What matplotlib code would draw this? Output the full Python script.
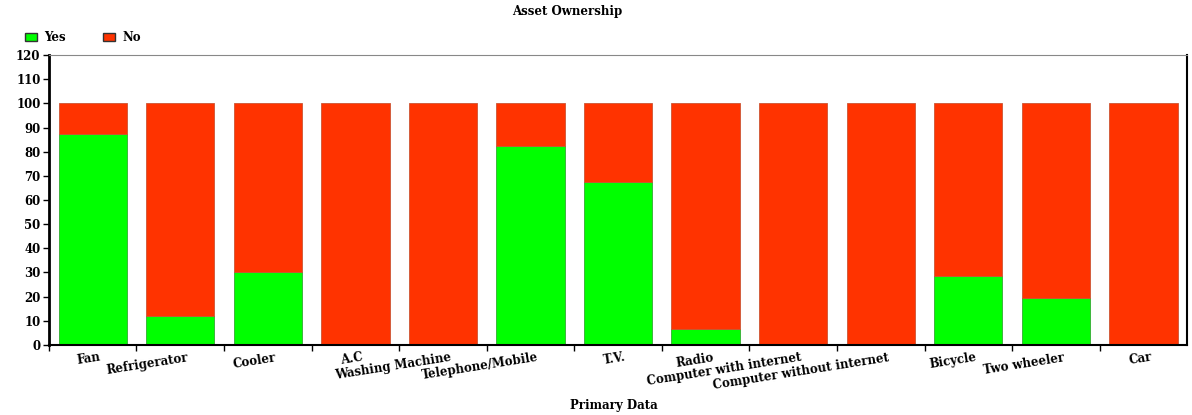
import matplotlib.pyplot as plt
import numpy as np

categories = ["Fan", "Refrigerator", "Cooler", "A.C", "Washing Machine",
              "Telephone/Mobile", "T.V.", "Radio", "Computer with internet",
              "Computer without internet", "Bicycle", "Two wheeler", "Car"]
yes_pct = [87.5, 12, 30.3, 0, 0.5, 82.2, 67.6, 6.6, 0, 0.5, 28.6, 19.5, 0]
no_pct = [100 - v for v in yes_pct]

plt.rcParams["font.family"] = "DejaVu Serif"
plt.rcParams["font.weight"] = "bold"

fig = plt.figure(figsize=(11.92, 4.15), dpi=100)
ax = fig.add_axes([0.041, 0.169, 0.955, 0.698])

x = np.arange(len(categories))
ax.bar(x, yes_pct, width=0.78, color="#00ff00", edgecolor="#33aa33", linewidth=0.6, label="Yes")
ax.bar(x, no_pct, width=0.78, bottom=yes_pct, color="#ff3300", edgecolor="#cc5533", linewidth=0.6, label="No")

ax.set_xlim(-0.5, len(categories) - 0.5)
ax.set_ylim(0, 120)
ax.set_yticks(range(0, 121, 10))
ax.tick_params(axis="y", labelsize=8.5, length=4, width=1, pad=2)
ax.set_xticks(x - 0.5)
ax.set_xticklabels([])
ax.tick_params(axis="x", length=4, width=1)
for i, c in enumerate(categories):
    ax.text(i + 0.08, -2.5, c, rotation=9, ha="right", va="top", rotation_mode="anchor",
            fontsize=8.5, fontweight="bold")

ax.spines["left"].set_linewidth(2)
ax.spines["bottom"].set_linewidth(1.5)
ax.spines["right"].set_linewidth(1.5)
ax.spines["top"].set_color("#888888")

fig.text(0.476, 0.972, "Asset Ownership", ha="center", va="center", fontsize=8.5, fontweight="bold")
fig.text(0.515, 0.022, "Primary Data", ha="center", va="center", fontsize=8.5, fontweight="bold")

leg = fig.legend(loc="upper left", bbox_to_anchor=(0.012, 0.95), ncol=2, frameon=False,
                 fontsize=8.5, handlelength=1.0, handleheight=0.6, columnspacing=3.2,
                 handletextpad=0.6)
for h in leg.legend_handles:
    h.set_edgecolor("#333333")
    h.set_linewidth(1)

fig.savefig("out.png", dpi=100)
